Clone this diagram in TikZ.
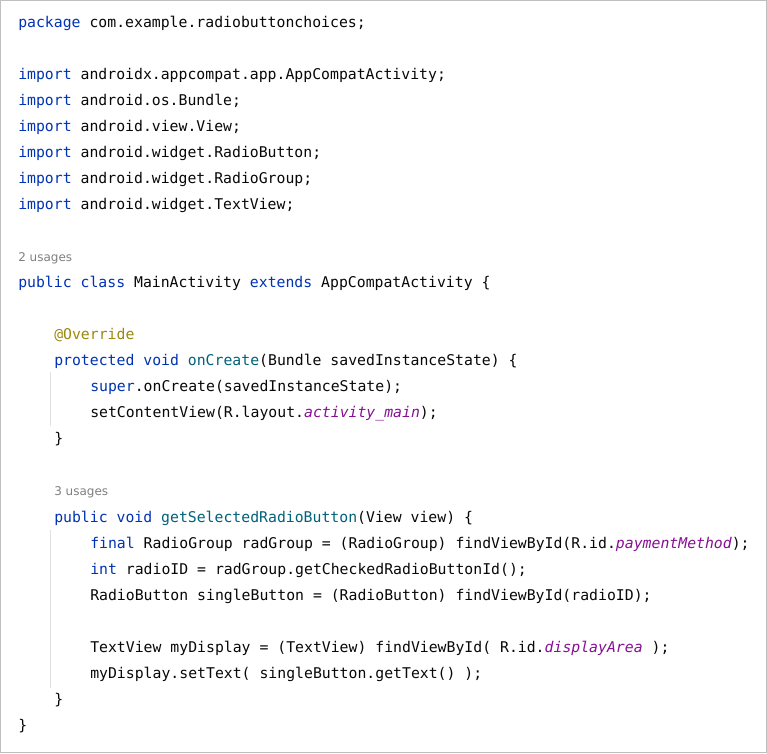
\documentclass[tikz,border=0pt]{standalone}
\usepackage{fontspec}
\setmonofont{DejaVu Sans Mono}
\newfontfamily\usg{DejaVu Sans}
\definecolor{kw}{HTML}{0033B3}
\definecolor{fn}{HTML}{00627A}
\definecolor{an}{HTML}{9E880D}
\definecolor{it}{HTML}{871094}
\definecolor{tx}{HTML}{080808}
\definecolor{gr}{HTML}{808080}
\newcommand{\K}[1]{\textcolor{kw}{#1}}
\newcommand{\F}[1]{\textcolor{fn}{#1}}
\newcommand{\I}[1]{\textcolor{it}{\itshape #1}}
\begin{document}
\begin{tikzpicture}[x=0.75pt,y=-0.75pt,
  code/.style={anchor=base west,inner sep=0,font=\ttfamily\fontsize{11.1pt}{13pt}\selectfont,text=tx},
  use/.style={anchor=base west,inner sep=0,font=\usg\fontsize{9pt}{11pt}\selectfont,text=gr},
  guide/.style={draw=black!12,line width=0.75pt}]
\fill[white] (0,0) rectangle (767,753);
\draw[black!25,line width=0.75pt] (0.5,0.5) rectangle (766.5,752.5);
\draw[guide] (50,372) -- (50,426);
\draw[guide] (50,530) -- (50,688);
\node[code] (l1) at (18,27) {\K{package} com.example.radiobuttonchoices;};
\node[code] (l2) at (18,79) {\K{import} androidx.appcompat.app.AppCompatActivity;};
\node[code] (l3) at (18,105) {\K{import} android.os.Bundle;};
\node[code] (l4) at (18,131) {\K{import} android.view.View;};
\node[code] (l5) at (18,157) {\K{import} android.widget.RadioButton;};
\node[code] (l6) at (18,183) {\K{import} android.widget.RadioGroup;};
\node[code] (l7) at (18,209) {\K{import} android.widget.TextView;};
\node[use] (u1) at (18,261) {2 usages};
\node[code] (l8) at (18,287) {\K{public class} MainActivity \K{extends} AppCompatActivity \{};
\node[code] (l9) at (54,339) {\textcolor{an}{@Override}};
\node[code] (l10) at (54,365) {\K{protected void} \F{onCreate}(Bundle savedInstanceState) \{};
\node[code] (l11) at (90,391) {\K{super}.onCreate(savedInstanceState);};
\node[code] (l12) at (90,417) {setContentView(R.layout.\I{activity\_main});};
\node[code] (l13) at (54,443) {\}};
\node[use] (u2) at (54,495) {3 usages};
\node[code] (l14) at (54,522) {\K{public void} \F{getSelectedRadioButton}(View view) \{};
\node[code] (l15) at (90,548) {\K{final} RadioGroup radGroup = (RadioGroup) findViewById(R.id.\I{paymentMethod});};
\node[code] (l16) at (90,574) {\K{int} radioID = radGroup.getCheckedRadioButtonId();};
\node[code] (l17) at (90,600) {RadioButton singleButton = (RadioButton) findViewById(radioID);};
\node[code] (l18) at (90,652) {TextView myDisplay = (TextView) findViewById( R.id.\I{displayArea} );};
\node[code] (l19) at (90,678) {myDisplay.setText( singleButton.getText() );};
\node[code] (l20) at (54,704) {\}};
\node[code] (l21) at (18,730) {\}};
\end{tikzpicture}
\end{document}
